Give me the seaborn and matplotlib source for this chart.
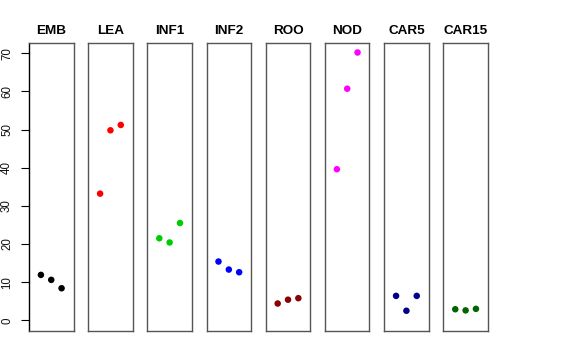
import matplotlib
matplotlib.use("Agg")
import matplotlib.pyplot as plt
import seaborn as sns
import pandas as pd

categories = ["EMB", "LEA", "INF1", "INF2", "ROO", "NOD", "CAR5", "CAR15"]
emb = [11.9, 10.6, 8.4]
lea = [33.2, 49.8, 51.2]
inf1 = [21.5, 20.4, 25.5]
inf2 = [15.4, 13.3, 12.6]
roo = [4.4, 5.4, 5.8]
nod = [39.6, 60.7, 70.2]
car5 = [6.4, 2.5, 6.4]
car15 = [2.9, 2.6, 3.0]
replicate = [1, 2, 3]
colors = ["#000000", "#FF0000", "#00CD00", "#0000FF", "#8B0000", "#FF00FF", "#00008B", "#006400"]
yticks = [0, 10, 20, 30, 40, 50, 60, 70]

series = [emb, lea, inf1, inf2, roo, nod, car5, car15]
df = pd.DataFrame({
    "tissue": [c for c, s in zip(categories, series) for _ in s],
    "rep": [r for s in series for r in replicate],
    "value": [v for s in series for v in s],
})

sns.set_style("white")
plt.rcParams["font.family"] = ["Liberation Sans", "DejaVu Sans"]

fig, axes = plt.subplots(1, 8, figsize=(5.76, 3.6), dpi=100, sharey=True)
fig.subplots_adjust(left=0.0503, right=0.847, top=0.8797, bottom=0.0806, wspace=0.329)

for i, (ax, cat, col) in enumerate(zip(axes, categories, colors)):
    sub = df[df["tissue"] == cat]
    sns.scatterplot(data=sub, x="rep", y="value", ax=ax, color=col, s=22,
                    edgecolor="none", linewidth=0, legend=False)
    ax.set_xlim(-0.155, 4.155)
    ax.set_ylim(-2.8, 72.6)
    ax.set_xticks([])
    ax.set_xlabel("")
    ax.set_ylabel("")
    ax.set_title(cat, fontsize=9.7, fontweight="bold", pad=6.5, color="black")
    for sp in ax.spines.values():
        sp.set_visible(True)
        sp.set_color("#555555")
        sp.set_linewidth(1.0)
    if i == 0:
        ax.spines["left"].set_color("black")
        ax.set_yticks(yticks)
        ax.set_yticklabels([str(t) for t in yticks], rotation=90, va="center", fontsize=8.3, color="#111111")
        ax.tick_params(axis="y", length=5.5, width=0.8, color="black", left=True, pad=6)
    else:
        ax.tick_params(axis="y", left=False, labelleft=False)

fig.savefig("out.png", dpi=100)
